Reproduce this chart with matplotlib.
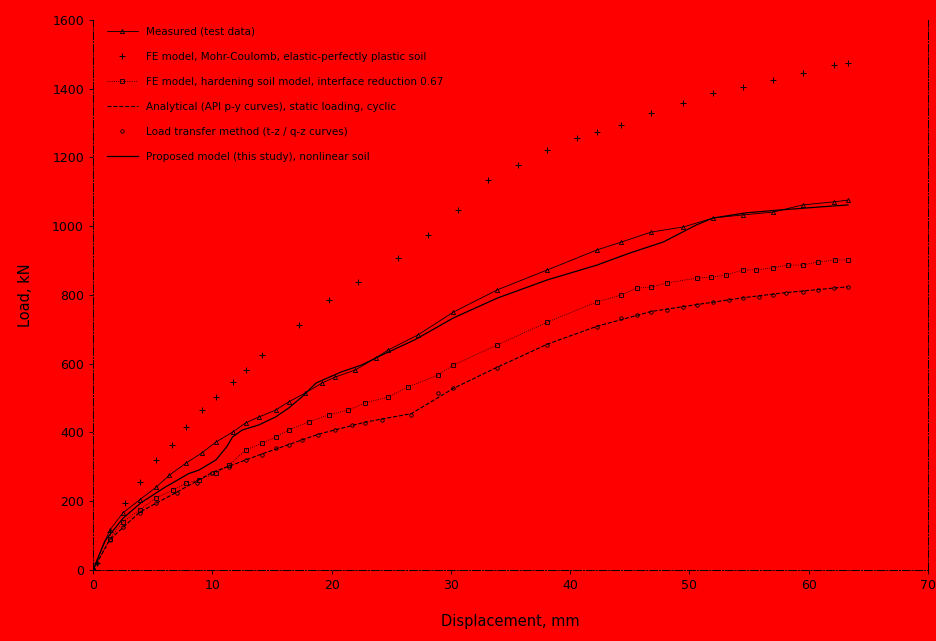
import numpy as np
import matplotlib.pyplot as plt

# displacement (mm) / load (kN)
x_top = [0, 0.33, 1.4, 2.7, 3.9, 5.3, 6.6, 7.8, 9.1, 10.3, 11.7, 12.8, 14.2, 17.25, 19.75,
         22.25, 25.6, 28.1, 30.6, 33.1, 35.6, 38.1, 40.6, 42.25, 44.3, 46.8, 49.5, 52.0,
         54.5, 57.0, 59.5, 62.1, 63.3]
y_top = [0, 20, 111, 195, 256, 320, 364, 416, 465, 503, 547, 582, 625, 713, 785,
         838, 908, 975, 1047, 1135, 1178, 1222, 1257, 1274, 1295, 1330, 1359, 1388,
         1405, 1425, 1446, 1469, 1475]

x_tri = [0, 1.4, 2.5, 3.9, 5.3, 6.4, 7.8, 9.1, 10.3, 11.7, 12.8, 13.9, 15.3, 16.4, 17.8,
         19.2, 20.3, 22.0, 23.7, 24.75, 27.25, 30.2, 33.9, 38.1, 42.25, 44.3, 46.8, 49.5,
         52.0, 54.5, 57.0, 59.5, 62.1, 63.3]
y_tri = [0, 116, 166, 204, 241, 276, 311, 340, 372, 401, 428, 445, 465, 489, 515,
         544, 561, 582, 617, 640, 684, 750, 815, 873, 931, 954, 983, 998,
         1024, 1033, 1041, 1062, 1071, 1076]

x_solid = [0, 1.0, 2.5, 4.0, 6.0, 8.0, 8.9, 10.3, 11.2, 11.7, 12.5, 13.9, 15.3, 16.4, 17.5,
           18.7, 20.8, 22.5, 24.2, 27.0, 30.2, 33.9, 38.1, 42.25, 45.0, 47.8, 50.6, 52.0,
           54.75, 57.5, 60.5, 63.3]
y_solid = [0, 85, 150, 195, 240, 280, 291, 320, 358, 387, 407, 422, 445, 471, 503,
           544, 576, 596, 625, 670, 733, 791, 844, 887, 922, 954, 1004, 1024,
           1039, 1047, 1055, 1062]

x_mid = [0, 1.4, 2.5, 3.9, 5.3, 6.7, 7.8, 8.9, 10.3, 11.4, 12.8, 14.2, 15.3, 16.4, 18.1,
         19.75, 21.4, 22.8, 24.75, 26.4, 28.9, 30.2, 33.9, 38.1, 42.25, 44.3, 45.6, 46.8,
         48.1, 50.6, 51.8, 53.1, 54.5, 55.6, 57.0, 58.25, 59.5, 60.8, 62.25, 63.3]
y_mid = [0, 90, 140, 175, 210, 233, 253, 262, 282, 305, 349, 369, 387, 407, 431,
         451, 465, 486, 503, 532, 567, 596, 655, 721, 780, 800, 820, 823,
         835, 849, 852, 858, 873, 873, 879, 887, 887, 896, 902, 902]

x_dash = [0, 1.4, 3.9, 7.0, 10.0, 14.2, 18.9, 22.8, 26.7, 30.2, 33.9, 38.1, 42.25, 46.8,
          50.6, 54.5, 58.1, 63.3]
y_dash = [0, 88, 168, 226, 284, 338, 395, 430, 455, 528, 590, 657, 709, 752,
          772, 792, 807, 824]

x_bot = [0, 0.33, 1.4, 2.5, 3.9, 5.3, 7.0, 8.7, 10.0, 11.4, 12.8, 14.2, 15.3, 16.4, 17.5,
         18.9, 20.3, 21.7, 22.8, 24.2, 26.7, 28.9, 30.2, 33.9, 38.1, 42.25, 44.3, 45.6,
         46.8, 48.1, 49.5, 50.6, 52.0, 53.3, 54.5, 55.8, 57.0, 58.1, 59.5, 60.8, 62.1, 63.3]
y_bot = [0, 20, 87, 125, 166, 195, 224, 253, 282, 300, 320, 335, 355, 364, 378,
         393, 407, 422, 428, 436, 451, 515, 529, 588, 655, 707, 733, 742,
         751, 756, 765, 771, 780, 785, 791, 794, 800, 806, 809, 815, 820, 823]

labels = ["Measured (test data)",
          "FE model, Mohr-Coulomb, elastic-perfectly plastic soil",
          "FE model, hardening soil model, interface reduction 0.67",
          "Analytical (API p-y curves), static loading, cyclic",
          "Load transfer method (t-z / q-z curves)",
          "Proposed model (this study), nonlinear soil"]

red = '#ff0000'
fig = plt.figure(figsize=(9.37, 6.41), dpi=100, facecolor=red)
ax = fig.add_axes([0.0993, 0.1108, 0.891, 0.858])
ax.set_facecolor(red)

ax.plot(x_tri, y_tri, color='k', lw=0.6, marker='^', ms=3, mfc='none', mew=0.6, label=labels[0])
ax.plot(x_top, y_top, color='k', lw=0, marker='+', ms=4, mew=0.7, label=labels[1])
ax.plot(x_mid, y_mid, color='k', lw=0.6, ls=':', marker='s', ms=2.5, mfc='none', mew=0.6, label=labels[2])
ax.plot(x_dash, y_dash, color='k', lw=0.8, ls='--', label=labels[3])
ax.plot(x_bot, y_bot, color='k', lw=0, marker='o', ms=2.5, mfc='none', mew=0.6, label=labels[4])
ax.plot(x_solid, y_solid, color='k', lw=0.9, label=labels[5])

ax.set_xlim(0, 70)
ax.set_ylim(0, 1600)
ax.set_xticks(np.arange(0, 71, 10))
ax.set_yticks(np.arange(0, 1601, 200))
ax.tick_params(labelsize=9, width=0.6, length=3, colors='k')
for s in ['left', 'bottom', 'right']:
    ax.spines[s].set_linewidth(0.7)
    ax.spines[s].set_linestyle((0, (8, 2, 1, 2)))
ax.spines['top'].set_visible(False)

ax.set_xlabel("Displacement, mm", fontsize=10.5, labelpad=16)
ax.set_ylabel("Load, kN", fontsize=10.5, labelpad=14)

leg = ax.legend(loc='upper left', fontsize=7.5, frameon=False, labelspacing=1.45,
                handlelength=3, bbox_to_anchor=(0.005, 1.005))

fig.savefig("out.png", dpi=100, facecolor=red)
